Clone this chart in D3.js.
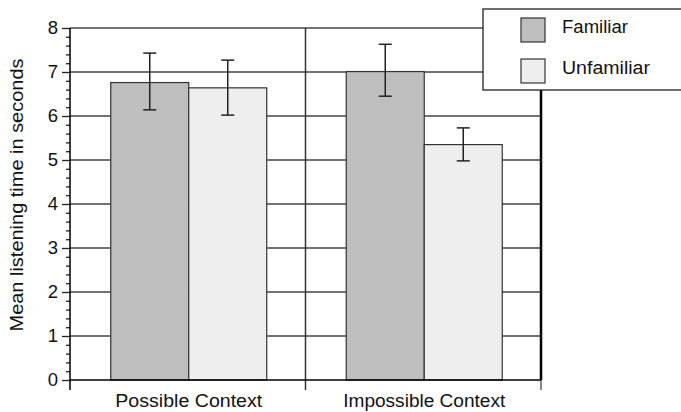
<!DOCTYPE html>
<html>
<head>
<meta charset="utf-8">
<script src="https://cdn.jsdelivr.net/npm/d3@7"></script>
<style>
  body { margin: 0; background: #fff; }
  svg { display: block; font-family: "Liberation Sans", Arial, Helvetica, sans-serif; }
</style>
</head>
<body>
<svg id="chart" width="681" height="412"></svg>
<script>
// chart data
var categories = ["Possible Context", "Impossible Context"];
var seriesNames = ["Familiar", "Unfamiliar"];
var familiar = [6.76, 7.01];
var unfamiliar = [6.64, 5.35];
var familiarLow = [6.14, 6.45];
var familiarHigh = [7.43, 7.63];
var unfamiliarLow = [6.02, 4.98];
var unfamiliarHigh = [7.27, 5.73];
var yTicks = [0, 1, 2, 3, 4, 5, 6, 7, 8];

var colors = { "Familiar": "#bebebe", "Unfamiliar": "#eeeeee" };

var svg = d3.select("#chart");

// plot area edges
var pLeft = 70, pRight = 541, pTop = 28, pBottom = 380;

var x = d3.scaleBand().domain(categories).range([pLeft, pRight]).padding(0);
var groupWidth = 156;
var xs = d3.scaleBand().domain(seriesNames).range([0, groupWidth]);
var y = d3.scaleLinear().domain([0, 8]).range([pBottom, pTop]);

// build rows
var rows = [];
categories.forEach(function(c, i) {
  rows.push({ cat: c, s: "Familiar", v: familiar[i], lo: familiarLow[i], hi: familiarHigh[i] });
  rows.push({ cat: c, s: "Unfamiliar", v: unfamiliar[i], lo: unfamiliarLow[i], hi: unfamiliarHigh[i] });
});
function barX(d) { return x(d.cat) + (x.bandwidth() - groupWidth) / 2 + 1 + xs(d.s); }

// horizontal grid lines
svg.append("g").selectAll("line")
  .data(yTicks.filter(function(t) { return t > 0; }))
  .join("line")
  .attr("x1", pLeft).attr("x2", pRight)
  .attr("y1", function(d) { return y(d); }).attr("y2", function(d) { return y(d); })
  .attr("stroke", "#444").attr("stroke-width", 1.3);

// vertical divider between categories
svg.append("line")
  .attr("x1", x(categories[1])).attr("x2", x(categories[1]))
  .attr("y1", pTop).attr("y2", pBottom + 10)
  .attr("stroke", "#333").attr("stroke-width", 1.5);

// right frame line
svg.append("line")
  .attr("x1", pRight).attr("x2", pRight)
  .attr("y1", pTop).attr("y2", pBottom)
  .attr("stroke", "#000").attr("stroke-width", 2.5);
svg.append("line")
  .attr("x1", pRight).attr("x2", pRight)
  .attr("y1", pBottom).attr("y2", pBottom + 10)
  .attr("stroke", "#444").attr("stroke-width", 1.3);

// bars
svg.append("g").selectAll("rect")
  .data(rows)
  .join("rect")
  .attr("x", barX)
  .attr("y", function(d) { return y(d.v); })
  .attr("width", xs.bandwidth())
  .attr("height", function(d) { return y(0) - y(d.v); })
  .attr("fill", function(d) { return colors[d.s]; })
  .attr("stroke", "#333").attr("stroke-width", 1.2);

// error bars
var eb = svg.append("g").attr("stroke", "#222").attr("stroke-width", 1.5);
rows.forEach(function(d) {
  var cx = barX(d) + xs.bandwidth() / 2;
  eb.append("line").attr("x1", cx).attr("x2", cx).attr("y1", y(d.lo)).attr("y2", y(d.hi));
  eb.append("line").attr("x1", cx - 6.5).attr("x2", cx + 6.5).attr("y1", y(d.lo)).attr("y2", y(d.lo));
  eb.append("line").attr("x1", cx - 6.5).attr("x2", cx + 6.5).attr("y1", y(d.hi)).attr("y2", y(d.hi));
});

// x axis line
svg.append("line")
  .attr("x1", pLeft).attr("x2", pRight)
  .attr("y1", pBottom).attr("y2", pBottom)
  .attr("stroke", "#000").attr("stroke-width", 1.5);

// category labels
var catWidths = [147, 162];
svg.append("g").selectAll("text")
  .data(categories)
  .join("text")
  .attr("x", function(d) { return x(d) + x.bandwidth() / 2 + 1; })
  .attr("y", 407)
  .attr("text-anchor", "middle")
  .attr("font-size", 17.5)
  .attr("textLength", function(d, i) { return catWidths[i]; })
  .attr("lengthAdjust", "spacingAndGlyphs")
  .attr("fill", "#111")
  .text(function(d) { return d; });

// y axis: major ticks
var yAxis = d3.axisLeft(y).tickValues(yTicks).tickSize(8).tickPadding(4).tickFormat(d3.format("d"));
var ya = svg.append("g").attr("transform", "translate(" + pLeft + ",0)").call(yAxis);
ya.select(".domain").remove();
ya.selectAll(".tick line").attr("stroke", "#222").attr("stroke-width", 1.3);
ya.selectAll(".tick text").attr("font-size", 18.5).attr("fill", "#111")
  .attr("font-family", "\"Liberation Sans\", Arial, sans-serif");

// y axis: minor ticks
var minor = d3.range(0, 8, 0.2).filter(function(v) { return Math.abs(v - Math.round(v)) > 0.01; });
var ym = svg.append("g").attr("transform", "translate(" + pLeft + ",0)")
  .call(d3.axisLeft(y).tickValues(minor).tickSize(4).tickFormat(""));
ym.select(".domain").remove();
ym.selectAll(".tick line").attr("stroke", "#222").attr("stroke-width", 1.3);

svg.append("line")
  .attr("x1", pLeft).attr("x2", pLeft)
  .attr("y1", pTop).attr("y2", pBottom + 10)
  .attr("stroke", "#000").attr("stroke-width", 1.5);

// y axis title
svg.append("text")
  .attr("transform", "translate(23,195) rotate(-90)")
  .attr("text-anchor", "middle")
  .attr("font-size", 18)
  .attr("textLength", 273)
  .attr("lengthAdjust", "spacingAndGlyphs")
  .attr("fill", "#111")
  .text("Mean listening time in seconds");

// legend
var legend = svg.append("g");
legend.append("rect")
  .attr("x", 483).attr("y", 9).attr("width", 220).attr("height", 81)
  .attr("fill", "#fff").attr("stroke", "#222").attr("stroke-width", 1.3);
var legWidths = [66, 88];
var li = legend.selectAll("g.item")
  .data(seriesNames)
  .join("g").attr("class", "item")
  .attr("transform", function(d, i) { return "translate(521," + (18 + i * 41) + ")"; });
li.append("rect")
  .attr("width", 24).attr("height", 24)
  .attr("fill", function(d) { return colors[d]; })
  .attr("stroke", "#333").attr("stroke-width", 1.2);
li.append("text")
  .attr("x", 41).attr("y", 15)
  .attr("font-size", 17.5)
  .attr("textLength", function(d, i) { return legWidths[i]; })
  .attr("lengthAdjust", "spacingAndGlyphs")
  .attr("fill", "#111")
  .text(function(d) { return d; });
</script>
</body>
</html>
